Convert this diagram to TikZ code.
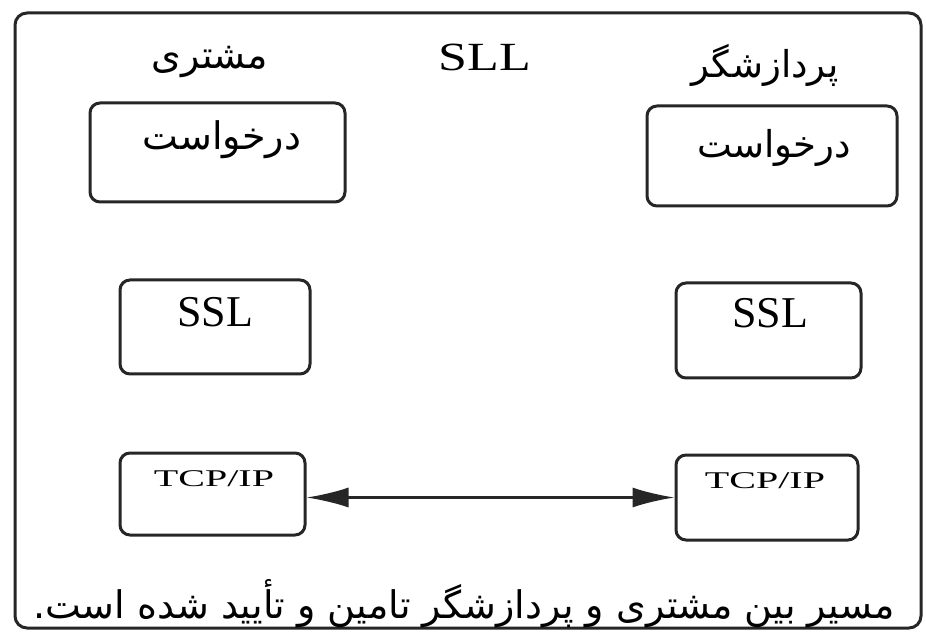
\documentclass[tikz,border=0pt]{standalone}
\usepackage{fontspec}
\setmainfont{Liberation Serif}
\newfontfamily\arabicfont[Script=Arabic]{DejaVu Sans}
\TeXXeTstate=1
\usetikzlibrary{arrows.meta}
\begin{document}
\begin{tikzpicture}[x=0.5pt,y=-0.5pt,
  frame/.style={draw=black!85, line width=1.5pt, rounded corners=6pt},
  box/.style={draw=black!85, line width=1.5pt, rounded corners=5pt, inner sep=0pt},
  fa/.style={inner sep=0pt, font=\arabicfont\fontsize{19}{22}\selectfont},
  lat/.style={inner sep=0pt, font=\fontsize{22}{24}\selectfont},
  link/.style={draw=black!85, line width=1.2pt, {Latex[length=21pt,width=10pt]}-{Latex[length=21pt,width=10pt]}}]
\useasboundingbox (0,0) rectangle (926,641);
\fill[white] (0,0) rectangle (926,641);
\draw[frame] (15,13) rectangle (921,628);
% headers
\node[fa] (hclient) at (210,62) {\beginR مشتری\endR};
\node[lat, font=\fontsize{20}{22}\selectfont] (hsll) at (485,57) {\scalebox{1.3}[1]{SLL}};
\node[fa, font=\arabicfont\fontsize{18.5}{22}\selectfont] (hserver) at (765,65) {\beginR پردازشگر\endR};
% boxes
\node[box, minimum width=127.5pt, minimum height=49.5pt] (a1) at (217.5,152.5) {};
\node[box, minimum width=125pt, minimum height=50pt] (a2) at (772,156) {};
\node[box, minimum width=95pt, minimum height=47pt] (b1) at (215,327) {};
\node[box, minimum width=92.5pt, minimum height=47.5pt] (b2) at (768.5,330.5) {};
\node[box, minimum width=92.5pt, minimum height=41pt] (c1) at (212.5,494) {};
\node[box, minimum width=91pt, minimum height=42.5pt] (c2) at (767,497.5) {};
% texts
\node[fa] (ta1) at (222,140) {\beginR درخواست\endR};
\node[fa, font=\arabicfont\fontsize{18.5}{22}\selectfont] (ta2) at (774,148) {\beginR درخواست\endR};
\node[lat] (tb1) at (215,312) {SSL};
\node[lat] (tb2) at (770,313) {SSL};
\node[lat, font=\fontsize{20}{22}\selectfont] (tc1) at (214,479) {\scalebox{1}[0.6]{TCP/IP}};
\node[lat, font=\fontsize{20}{22}\selectfont] (tc2) at (765,481) {\scalebox{1}[0.6]{TCP/IP}};
% connector
\draw[link] (c1.east |- c2.west) -- (c2.west);
% caption
\node[fa] (cap) at (464,604) {\beginR مسیر بین مشتری و پردازشگر تامین و تأیید شده است.\endR};
\end{tikzpicture}
\end{document}
